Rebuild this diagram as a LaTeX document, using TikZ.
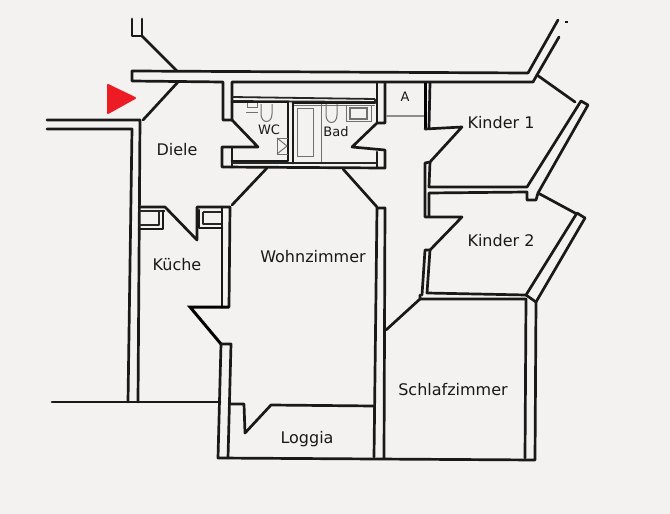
\documentclass[tikz,border=0pt]{standalone}
\usepackage{fontspec}
\setmainfont{DejaVu Sans}
\definecolor{paper}{HTML}{F4F2F1}
\definecolor{entry}{HTML}{ED1C24}
\definecolor{fixture}{HTML}{707070}
\tikzstyle{wall}=[draw=black!90,line width=2.7pt,line join=round,line cap=round]
\tikzstyle{heavywall}=[draw=black,line width=3pt,line join=miter]
\tikzstyle{thinwall}=[draw=black!85,line width=1.8pt,line join=round]
\tikzstyle{fixtureline}=[draw=fixture,line width=1pt]
\tikzstyle{room} = [font=\fontsize{16}{16}\selectfont,text=black!90,inner sep=0pt]
\tikzstyle{smallroom} = [font=\fontsize{13}{13}\selectfont,text=black!90,inner sep=0pt]
\begin{document}
\begin{tikzpicture}[x=1pt,y=-1pt]

  \path[fill=paper] (0,0) rectangle (670,514);
  \useasboundingbox (0,0) rectangle (670,514);

  % Entry mark
  \path[fill=entry,draw=entry,line width=2pt,line join=round] (108,85) -- (108,113) -- (135,98) -- cycle;

  % Top wall and stairwell
  \draw[wall] (132,19) -- (132,36) -- (142,36) -- (142,19);
  \draw[wall] (142,36) -- (177,71);
  \draw[wall] (528,73) -- (132,71) -- (132,81) -- (223,82) -- (223,120) -- (232,120);
  \draw[wall] (232,120) -- (232,82) -- (533,82) -- (537,75);
  \draw[wall] (178,82) -- (143,120);
  \draw[wall] (528,73) -- (558,20);
  \draw[wall] (537,75) -- (559,37);
  \draw[wall] (537,75) -- (575,102);

  % Neighbour and outer left
  \draw[wall] (47,120) -- (140,120) -- (138,402);
  \draw[wall] (47,129) -- (132,129) -- (128,402);
  \draw[wall] (52,402) -- (220,402);

  % WC and Bad
  \draw[wall] (232,120) -- (258,147) -- (222,147) -- (222,167) -- (385,168) -- (385,150) -- (352,147) -- (377,123) -- (385,123) -- (385,83);
  \draw[wall] (377,83) -- (377,123);
  \draw[wall] (232,148) -- (232,167);
  \draw[wall] (377,152) -- (377,167);
  \draw[thinwall] (232,97) -- (375,99);
  \draw[thinwall] (232,101) -- (375,102) -- (375,99);
  \draw[wall] (232,102) -- (288,102) -- (288,161) -- (232,161);
  \draw[wall] (293,103) -- (293,163);
  \draw[wall] (293,103) -- (375,103);
  \draw[thinwall] (232,163) -- (377,163);
  \draw[wall] (267,168) -- (232,205);
  \draw[wall] (343,169) -- (377,207);

  % Fixtures
  \draw[fixtureline] (297,108) rectangle (313,156);
  \draw[fixtureline] (321,104) -- (321,162);
  \draw[fixtureline] (294,105) -- (375,105);
  \draw[fixtureline] (326,104) -- (326,115) .. controls (326,125) and (337,125) .. (337,115) -- (337,104);
  \draw[fixtureline] (261,104) -- (261,114) .. controls (261,124) and (272,124) .. (272,114) -- (272,104);
  \draw[fixtureline] (346,105) rectangle (371,121);
  \draw[fixtureline,line width=1.3pt] (350,108) rectangle (367,119);
  \draw[fixtureline] (247,103) -- (247,107) -- (257,107) -- (257,103);
  \draw[fixtureline] (246,112) -- (258,112);
  \draw[fixtureline] (288,138) -- (277,138) -- (277,154) -- (288,154);
  \draw[fixtureline] (277,138) -- (287,146) -- (277,154);

  % Kueche
  \draw[wall] (139,207) -- (165,207) -- (197,240) -- (197,207) -- (230,207);
  \draw[thinwall] (139,211) -- (165,211);
  \draw[thinwall] (139,225) -- (159,225) -- (159,212);
  \draw[wall] (139,229) -- (163,229) -- (163,211);
  \draw[wall] (199,210) -- (199,228) -- (222,228);
  \draw[thinwall] (203,212) -- (203,224) -- (222,224);
  \draw[thinwall] (203,212) -- (222,212);
  \draw[wall] (222,207) -- (222,307);
  \draw[wall] (230,207) -- (229,307);
  \draw[heavywall] (229,307) -- (190,307) -- (221,344);

  % Wohnzimmer and Loggia
  \draw[wall] (221,344) -- (231,344) -- (228,458);
  \draw[wall] (221,344) -- (218,458) -- (535,460) -- (536,302) -- (585,218);
  \draw[wall] (229,404) -- (244,404) -- (245,433) -- (271,405) -- (374,406);
  \draw[wall] (374,457) -- (377,208) -- (385,208) -- (384,458);

  % Kinder 1 and 2
  \draw[thinwall,draw=black!45] (386,116) -- (425,116);
  \draw[heavywall] (425,83) -- (425,129);
  \draw[wall] (430,83) -- (429,128);
  \draw[wall] (425,129) -- (462,127) -- (430,162) -- (425,163) -- (425,217) -- (462,217) -- (430,250) -- (425,250) -- (422,295);
  \draw[wall] (430,162) -- (429,187) -- (527,187) -- (581,101) -- (588,105) -- (538,193) -- (536,200) -- (527,200) -- (527,192) -- (429,193) -- (429,216);
  \draw[wall] (430,250) -- (427,293) -- (526,295) -- (577,213) -- (585,218);
  \draw[wall] (538,193) -- (575,213);
  \draw[wall] (420,295) -- (420,299) -- (526,299) -- (525,458);
  \draw[wall] (526,295) -- (536,302);
  \draw[wall] (420,299) -- (386,330);
  \draw[wall,line cap=butt] (565,22) -- (568,22);

  % Labels
  \foreach \pos/\name/\label in {{(177,150)/diele/Diele}, {(177,265)/kueche/Küche}, {(313,257)/wohnzimmer/Wohnzimmer}, {(307,439)/loggia/Loggia}, {(501,123)/kinderone/Kinder 1}, {(501,241)/kindertwo/Kinder 2}, {(453,390)/schlafzimmer/Schlafzimmer}}
      \node[room] (\name) at \pos {\label};
  \foreach \pos/\name/\label in {{(269,130)/wc/WC}, {(336,132)/bad/Bad}, {(405,97)/abstell/A}}
      \node[smallroom] (\name) at \pos {\label};

\end{tikzpicture}
\end{document}
